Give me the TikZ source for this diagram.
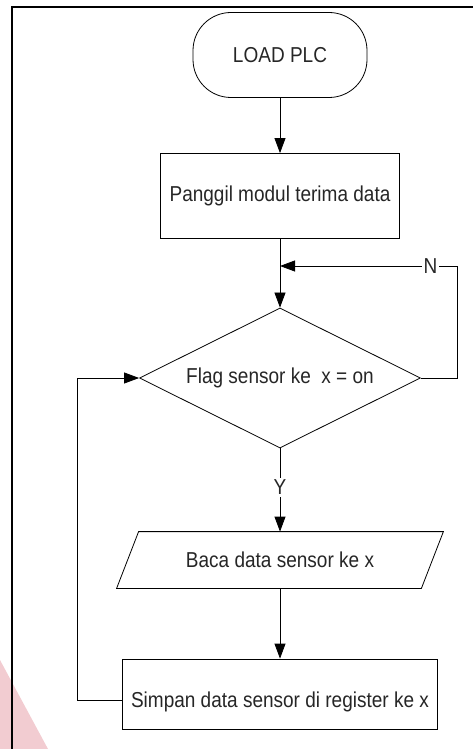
\documentclass[tikz,border=0pt]{standalone}
\usepackage{fontspec}
\setmainfont[FakeStretch=0.88]{Liberation Sans}
\usetikzlibrary{shapes.geometric,arrows.meta,positioning}
\definecolor{wmpink}{RGB}{242,204,209}
\tikzset{
  box/.style={draw,rectangle,minimum width=239pt,minimum height=85pt,inner sep=0pt},
  term/.style={draw,rectangle,rounded corners=38pt,minimum width=174pt,minimum height=85pt,inner sep=0pt},
  cond/.style={draw,diamond,aspect=2,minimum width=281pt,minimum height=140pt,inner sep=0pt},
  io/.style={rectangle,minimum width=304pt,minimum height=56pt,inner sep=0pt},
  flow/.style={-{Triangle[length=15pt,width=11pt]}},
  lbl/.style={fill=white,inner sep=2pt}
}
\begin{document}
\begin{tikzpicture}[x=1pt,y=-1pt,line width=0.8pt,
  every node/.style={font=\fontsize{21.6}{24}\selectfont,text=black!85}]
  \useasboundingbox (0,0) rectangle (473,749);
  \fill[wmpink] (0,660) -- (48,749) -- (0,749) -- cycle;
  \draw[line width=1.6pt] (12,749) -- (12,7) -- (473,7);

  \node[term] (load) at (280,55) {LOAD PLC};
  \node[box] (panggil) at (280,196) {Panggil modul terima data};
  \node[cond] (flag) at (280,378) {Flag sensor ke\ \ x = on};
  \node[io] (baca) at (280,560) {Baca data sensor ke x};
  \draw ([xshift=11pt]baca.north west) -- ([xshift=11pt]baca.north east)
    -- ([xshift=-11pt]baca.south east) -- ([xshift=-11pt]baca.south west) -- cycle;
  \node[box,minimum width=315pt,minimum height=70pt,text height=31pt,text depth=4.5pt]
    (simpan) at (280,694) {Simpan data sensor di register ke x};

  \coordinate (join) at (280,266);
  \coordinate (loopR) at (457,266);
  \coordinate (loopL) at (77,378);

  \draw[flow] (load) -- (panggil);
  \draw (panggil) -- (join);
  \draw[flow] (join) -- (flag);
  \draw[flow] (flag.east) -| (loopR) -- node[lbl,pos=0.15] {N} (join);
  \draw[flow] (flag.south) -- node[lbl,pos=0.47] {Y} (baca);
  \draw[flow] (baca) -- (simpan);
  \draw[flow] ([yshift=-6pt]simpan.west) -| (loopL) -- (flag.west);
\end{tikzpicture}
\end{document}
